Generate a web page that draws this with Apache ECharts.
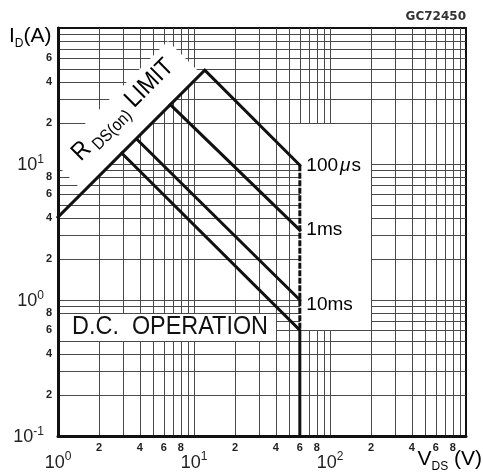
<!DOCTYPE html>
<html>
<head>
<meta charset="utf-8">
<script src="https://cdn.jsdelivr.net/npm/echarts@6/dist/echarts.min.js"></script>
<style>
  html, body { margin: 0; padding: 0; background: #fff; }
  #main { width: 483px; height: 475px; }
</style>
</head>
<body>
<div id="main"></div>
<script>
// safe operating area, V_DS in volts and I_D in amps
// R_DS(on) limit runs straight into the 100us pulse line
const limitV = [1, 12.0, 60]
const limitI = [4.07, 49, 9.8]
const ms1V = [6.7, 60]
const ms1I = [27.3, 3.27]
const ms10V = [3.8, 60]
const ms10I = [15.2, 1.0]
const dcV = [2.95, 60, 60]
const dcI = [12.0, 0.6, 0.1]
// dashed drop at 60 V between the pulse lines
const dropV = [60, 60]
const dropI = [9.8, 0.6]

// grid lines (1..9 per decade, borders left out)
const xGrid = [2, 3, 4, 5, 6, 7, 8, 9, 10, 20, 30, 40, 50, 60, 70, 80, 90, 100, 200, 300, 400, 500, 600, 700, 800, 900]
const yGrid = [0.2, 0.3, 0.4, 0.5, 0.6, 0.7, 0.8, 0.9, 1, 2, 3, 4, 5, 6, 7, 8, 9, 10, 20, 30, 40, 50, 60, 70, 80, 90]
// small tick numbers inside each decade
const xMinorLabels = [2, 4, 6, 8, 20, 40, 60, 80, 200, 400, 600, 800]
const yMinorLabels = [0.2, 0.4, 0.6, 0.8, 2, 4, 6, 8, 20, 40, 60]

// white label boxes that blank out the grid
const rdsBox = [[1, 9.67], [1.54, 6.27], [11.27, 45.9], [6.43, 80.4], [1, 12.5]]
const dcBox = [[1, 0.5], [40, 0.8]]
const timeBox = [[60, 0.6], [200, 20]]

const FONT = "'Liberation Sans', Arial, sans-serif"
const INK = '#111'
const GRID = '#4a4a4a'

const pairs = (xs, ys) => xs.map((x, i) => [x, ys[i]])
const mantissa = v => String(Math.round(v / Math.pow(10, Math.floor(Math.log10(v) + 1e-9))))

const chart = echarts.init(document.getElementById('main'), null, {renderer: 'canvas'})

const supRich = {
  b: {fontSize: 18, fontFamily: FONT, color: '#222', verticalAlign: 'bottom'},
  s: {fontSize: 12, fontFamily: FONT, color: '#222', verticalAlign: 'bottom', padding: [0, 0, 9, 0]}
}
function majorLabel(limit) {
  return v => v >= limit * 0.999 ? '' : '{b|10}{s|' + Math.round(Math.log10(v)) + '}'
}

function renderGridX(params, api) {
  const top = api.coord([api.value(0), 100])
  const bot = api.coord([api.value(0), 0.1])
  const x = Math.round(top[0]) + 0.5
  return {type: 'line', shape: {x1: x, y1: top[1], x2: x, y2: bot[1]}, style: {stroke: GRID, lineWidth: 1}}
}
function renderGridY(params, api) {
  const l = api.coord([1, api.value(1)])
  const r = api.coord([1000, api.value(1)])
  const y = Math.round(l[1]) + 0.5
  return {type: 'line', shape: {x1: l[0], y1: y, x2: r[0], y2: y}, style: {stroke: GRID, lineWidth: 1}}
}
function renderMinorX(params, api) {
  const c = api.coord([api.value(0), 0.1])
  return {type: 'text', x: c[0], y: c[1] + 12,
    style: {text: mantissa(api.value(0)), font: 'bold 11px ' + FONT, fill: '#222', align: 'center', verticalAlign: 'middle'}}
}
function renderMinorY(params, api) {
  const c = api.coord([1, api.value(1)])
  return {type: 'text', x: c[0] - 6, y: c[1],
    style: {text: mantissa(api.value(1)), font: 'bold 11px ' + FONT, fill: '#222', align: 'right', verticalAlign: 'middle'}}
}

function renderNotes(params, api) {
  const r = Math.round
  const a = api.coord(dcBox[0]), b = api.coord(dcBox[1])
  const c = api.coord(timeBox[0]), d = api.coord(timeBox[1])
  const rdsAt = api.coord([3.05, 24.5])
  const dcAt = api.coord([1.27, 0.633])
  const usAt = api.coord([67, 9.7])
  const ms1At = api.coord([67, 3.27])
  const ms10At = api.coord([67, 0.93])
  const timeRich = {
    n: {fontSize: 19, fontFamily: FONT, color: INK},
    u: {fontSize: 19, fontFamily: FONT, fontStyle: 'italic', color: INK, padding: [0, 1, 0, 2]}
  }
  const timeText = (p, txt) => ({type: 'text', x: p[0], y: p[1],
    style: {text: txt, rich: timeRich, align: 'left', verticalAlign: 'middle'}})
  return {
    type: 'group',
    children: [
      {type: 'polygon', shape: {points: rdsBox.map(p => api.coord(p))}, style: {fill: '#fff'}},
      {type: 'rect', shape: {x: r(a[0]), y: r(b[1]) + 1, width: r(b[0]) - r(a[0]), height: r(a[1]) - r(b[1]) - 1}, style: {fill: '#fff'}},
      {type: 'rect', shape: {x: r(c[0]), y: r(d[1]) + 1, width: r(d[0]) - r(c[0]), height: r(c[1]) - r(d[1]) - 1}, style: {fill: '#fff'}},
      {type: 'text', x: rdsAt[0], y: rdsAt[1], rotation: Math.PI / 4, scaleX: 0.9,
        style: {text: '{r|R}{s| DS(on)}{r| LIMIT}', align: 'center', verticalAlign: 'middle',
          rich: {
            r: {fontSize: 25, fontFamily: FONT, color: INK, verticalAlign: 'bottom', padding: [0, 0, 3, 0]},
            s: {fontSize: 17, fontFamily: FONT, color: INK, verticalAlign: 'bottom'}
          }}},
      {type: 'text', x: dcAt[0], y: dcAt[1], scaleX: 0.9,
        style: {text: 'D.C.  OPERATION', font: '26px ' + FONT, fill: INK, align: 'left', verticalAlign: 'middle'}},
      timeText(usAt, '{n|100}{u|\u03bc}{n|s}'),
      timeText(ms1At, '{n|1ms}'),
      timeText(ms10At, '{n|10ms}')
    ]
  }
}

const thick = {color: INK, width: 3, cap: 'square', join: 'miter'}

const option = {
  animation: false,
  grid: {left: 58, top: 28, width: 408, height: 408, show: true, borderColor: INK, borderWidth: 2, backgroundColor: '#fff'},
  xAxis: {
    type: 'log', logBase: 10, min: 1, max: 1000, z: 20,
    axisLine: {show: true, onZero: false, lineStyle: {color: INK, width: 3}},
    axisTick: {show: false}, splitLine: {show: false}, minorSplitLine: {show: false},
    axisLabel: {margin: 15, formatter: majorLabel(1000), rich: supRich}
  },
  yAxis: {
    type: 'log', logBase: 10, min: 0.1, max: 100, z: 20,
    axisLine: {show: true, onZero: false, lineStyle: {color: INK, width: 3}},
    axisTick: {show: false}, splitLine: {show: false}, minorSplitLine: {show: false},
    axisLabel: {margin: 14, formatter: majorLabel(100), rich: supRich}
  },
  graphic: [
    {type: 'text', left: 9, top: 26, z: 30,
      style: {text: '{m|I}{s|D}{m|(A)}', rich: {
        m: {fontSize: 21, fontFamily: FONT, color: '#222', verticalAlign: 'bottom', padding: [0, 0, 3, 0]},
        s: {fontSize: 12, fontFamily: FONT, color: '#222', verticalAlign: 'bottom'}
      }}},
    {type: 'text', right: 1, top: 449, z: 30,
      style: {text: '{m|V}{s|DS}{m| (V)}', rich: {
        m: {fontSize: 21, fontFamily: FONT, color: '#222', verticalAlign: 'bottom', padding: [0, 0, 3, 0]},
        s: {fontSize: 12, fontFamily: FONT, color: '#222', verticalAlign: 'bottom'}
      }}},
    {type: 'text', right: 17, top: 11, z: 30,
      style: {text: 'GC72450', font: 'bold 12px DejaVu Sans', fill: '#333'}}
  ],
  series: [
    {type: 'custom', name: 'gridX', z: 1, silent: true, data: xGrid.map(v => [v, 1]), renderItem: renderGridX},
    {type: 'custom', name: 'gridY', z: 1, silent: true, data: yGrid.map(v => [1, v]), renderItem: renderGridY},
    {type: 'custom', name: 'notes', z: 5, silent: true, data: [[1, 1]], renderItem: renderNotes},
    {type: 'custom', name: 'xTicks', z: 6, silent: true, data: xMinorLabels.map(v => [v, 0.1]), renderItem: renderMinorX, clip: false},
    {type: 'custom', name: 'yTicks', z: 6, silent: true, data: yMinorLabels.map(v => [1, v]), renderItem: renderMinorY, clip: false},
    {type: 'line', name: 'RDS(on) limit / 100us', z: 10, symbol: 'none', lineStyle: thick, data: pairs(limitV, limitI)},
    {type: 'line', name: '1ms', z: 10, symbol: 'none', lineStyle: thick, data: pairs(ms1V, ms1I)},
    {type: 'line', name: '10ms', z: 10, symbol: 'none', lineStyle: thick, data: pairs(ms10V, ms10I)},
    {type: 'line', name: 'DC', z: 10, symbol: 'none', lineStyle: thick, data: pairs(dcV, dcI)},
    {type: 'line', name: 'drop', z: 10, symbol: 'none',
      lineStyle: {color: INK, width: 3, type: [6, 1.5]}, data: pairs(dropV, dropI)}
  ]
}

chart.setOption(option)
</script>
</body>
</html>
